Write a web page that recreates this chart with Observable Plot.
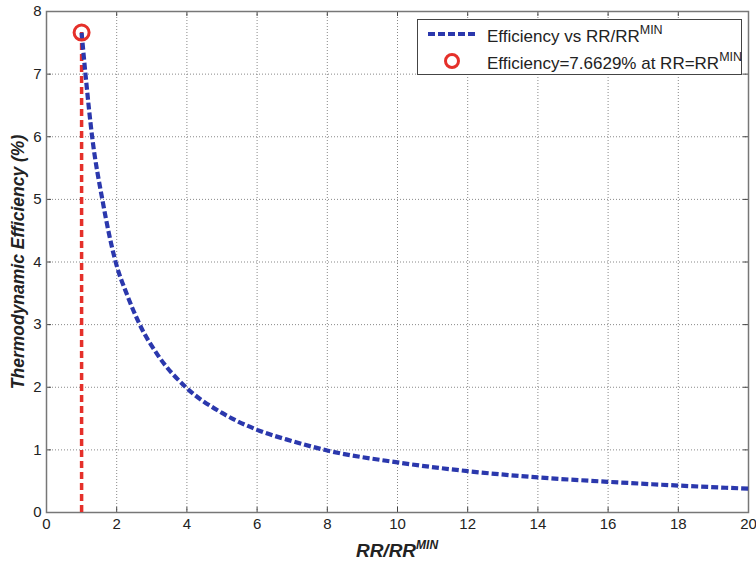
<!DOCTYPE html>
<html>
<head>
<meta charset="utf-8">
<script src="https://cdn.jsdelivr.net/npm/d3@7"></script>
<script src="https://cdn.jsdelivr.net/npm/@observablehq/plot@0.6"></script>
<style>
  body { margin: 0; background: #fff; }
  #wrap { position: relative; width: 756px; height: 564px; }
</style>
</head>
<body>
<div id="wrap"></div>
<script>
// ---- data ----
const xTicks = [0, 2, 4, 6, 8, 10, 12, 14, 16, 18, 20];
const yTicks = [0, 1, 2, 3, 4, 5, 6, 7, 8];
const ratio = [1.0, 1.11, 1.3, 1.59, 1.97, 2.3, 2.64, 3.2, 3.97, 5, 6, 7, 8, 10, 12, 14, 16, 18, 20];
const efficiency = [7.66, 7.0, 6.0, 5.0, 4.0, 3.47, 3.02, 2.49, 2.0, 1.59, 1.32, 1.14, 0.99, 0.80, 0.66, 0.56, 0.49, 0.43, 0.38];
const minRatio = 1;
const maxEfficiency = 7.6629;
const seriesLabel = "Efficiency vs RR/RR";
const pointLabel = "Efficiency=7.6629% at RR=RR";
const supLabel = "MIN";
const xLabel = "RR/RR";
const yLabel = "Thermodynamic Efficiency (%)";

const curve = ratio.map((r, i) => ({x: r, y: efficiency[i]}));
const point = [{x: minRatio, y: maxEfficiency}];

const blue = "#2b38ad";
const red = "#e5302a";
const font = "'Liberation Sans', Arial, sans-serif";
const W = 756, H = 564, mL = 46, mR = 8, mT = 11, mB = 52;
const fw = W - mL - mR, fh = H - mT - mB;
const tickLen = 5;

const chart = Plot.plot({
  width: W, height: H,
  marginLeft: mL, marginRight: mR, marginTop: mT, marginBottom: mB,
  x: {domain: [0, 20]},
  y: {domain: [0, 8]},
  style: {fontFamily: font, fontSize: "15px", color: "#222", background: "#fff"},
  marks: [
    Plot.gridX(xTicks.slice(1, -1), {stroke: "#888", strokeOpacity: 1, strokeDasharray: "1,2"}),
    Plot.gridY(yTicks.slice(1, -1), {stroke: "#888", strokeOpacity: 1, strokeDasharray: "1,2"}),
    // inward ticks (bottom, top, left, right)
    Plot.tickX(xTicks, {x: d => d, stroke: "#444", insetTop: fh - tickLen}),
    Plot.tickX(xTicks, {x: d => d, stroke: "#444", insetBottom: fh - tickLen}),
    Plot.tickY(yTicks, {y: d => d, stroke: "#444", insetRight: fw - tickLen}),
    Plot.tickY(yTicks, {y: d => d, stroke: "#444", insetLeft: fw - tickLen}),
    Plot.axisX(xTicks, {tickSize: 0, tickPadding: 6, tickFormat: "d", label: null, fontSize: 15}),
    Plot.axisY(yTicks, {tickSize: 0, tickPadding: 5, tickFormat: "d", label: null, fontSize: 15}),
    Plot.frame({stroke: "#777", strokeWidth: 1.5}),
    Plot.ruleX([minRatio], {y1: 0, y2: maxEfficiency, stroke: red, strokeWidth: 3.5, strokeDasharray: "7,4"}),
    Plot.line(curve, {x: "x", y: "y", curve: "monotone-x", stroke: blue, strokeWidth: 4.2, strokeDasharray: "7,3", strokeLinecap: "butt", strokeLinejoin: "miter"}),
    Plot.dot(point, {x: "x", y: "y", r: 7.5, stroke: red, strokeWidth: 3, fill: "none"}),
    Plot.text([yLabel], {frameAnchor: "left", textAnchor: "middle", rotate: -90, dx: -28, fontSize: 17.5, fontWeight: "bold", fontStyle: "italic", fill: "#222"})
  ]
});

document.getElementById("wrap").appendChild(chart);
const svg = d3.select(chart);

// x-axis label with superscript
const xl = svg.append("text")
  .attr("x", mL + fw / 2).attr("y", 557)
  .attr("text-anchor", "middle")
  .attr("font-family", font).attr("font-size", 19)
  .attr("font-weight", "bold").attr("font-style", "italic").attr("fill", "#222");
xl.append("tspan").text(xLabel);
xl.append("tspan").attr("font-size", 12).attr("dy", -8).text(supLabel);

// legend
const lg = svg.append("g").attr("font-family", font).attr("fill", "#222").attr("text-anchor", "start");
lg.append("rect").attr("x", 417.5).attr("y", 19.5).attr("width", 324).attr("height", 55)
  .attr("fill", "#fff").attr("stroke", "#444").attr("stroke-width", 1);
lg.append("line").attr("x1", 428).attr("x2", 478).attr("y1", 34).attr("y2", 34)
  .attr("stroke", blue).attr("stroke-width", 4).attr("stroke-dasharray", "7,3");
lg.append("circle").attr("cx", 452).attr("cy", 61).attr("r", 6.5)
  .attr("fill", "none").attr("stroke", red).attr("stroke-width", 3);
const rows = [[seriesLabel, 42], [pointLabel, 69]];
for (const [label, y] of rows) {
  const t = lg.append("text").attr("x", 487).attr("y", y).attr("font-size", 17).attr("text-anchor", "start");
  t.append("tspan").text(label);
  t.append("tspan").attr("font-size", 12.5).attr("dy", -8).text(supLabel);
}
</script>
</body>
</html>
